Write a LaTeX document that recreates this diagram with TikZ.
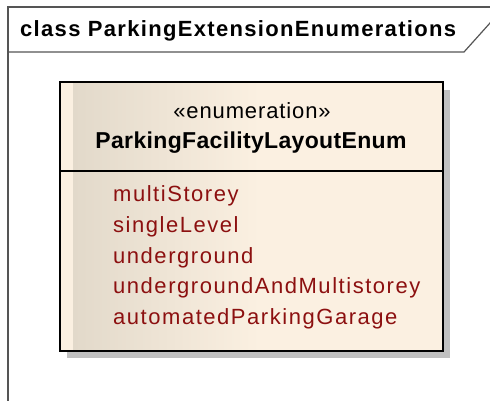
\documentclass[tikz,border=0pt]{standalone}
\usepackage{fontspec}
\setmainfont{Liberation Sans}
\newfontfamily\umlframefont[LetterSpace=6]{Liberation Sans}
\newfontfamily\umlfont[LetterSpace=7]{Liberation Sans}
\newfontfamily\umlstereofont[LetterSpace=4]{Liberation Sans}
\newfontfamily\umlnamefont[LetterSpace=1.5]{Liberation Sans}
\usetikzlibrary{positioning}

\definecolor{framegray}{RGB}{85,85,85}
\definecolor{classfill}{RGB}{251,240,225}
\definecolor{classdark}{RGB}{226,217,202}
\definecolor{literalred}{RGB}{140,16,16}
\definecolor{shadowgray}{RGB}{192,192,192}

\tikzset{
  framename/.style={anchor=base west, inner sep=0pt, font=\umlframefont\bfseries\fontsize{22}{26}\selectfont},
  stereo/.style={anchor=base, inner sep=0pt, font=\umlstereofont\fontsize{22}{26}\selectfont},
  classname/.style={anchor=base, inner sep=0pt, font=\umlnamefont\bfseries\fontsize{23}{27}\selectfont},
  literal/.style={anchor=base west, inner sep=0pt, text=literalred, font=\umlfont\fontsize{22}{26}\selectfont}
}

\begin{document}
\begin{tikzpicture}[x=1pt,y=-1pt]
	\useasboundingbox (0,0) rectangle (490,401);

	% diagram frame
	\coordinate (frameTL) at (8,7);
	\coordinate (tabEnd) at (464,52);
	\draw [framegray, line width=1.2pt] (8,410) -- (frameTL) -- (500,7);
	\draw [framegray, line width=1.2pt] (8,52) -- (tabEnd) -- (492,20.8);
	\node [framename] (frameTitle) at (20,37) {class ParkingExtensionEnumerations};

	% enumeration box
	\fill [shadowgray] (67,90) rectangle (450,358);
	\fill [classfill] (60,82) rectangle (443,351);
	\shade [left color=classdark, right color=classfill] (73,82) rectangle (260,351);
	\draw [black, line width=2.5pt] (60,82) rectangle (443,351);
	\draw [black, line width=1.6pt] (60,171) -- (443,171);

	\node [stereo] (stereotype) at (252,118.3) {«enumeration»};
	\node [classname] (enumName) at (251,148.3) {ParkingFacilityLayoutEnum};

	\node [literal] (lit1) at (113,201.5) {multiStorey};
	\node [literal] (lit2) at (113,232.3) {singleLevel};
	\node [literal] (lit3) at (113,263.1) {underground};
	\node [literal] (lit4) at (113,293.9) {undergroundAndMultistorey};
	\node [literal] (lit5) at (113,324.7) {automatedParkingGarage};
\end{tikzpicture}
\end{document}
